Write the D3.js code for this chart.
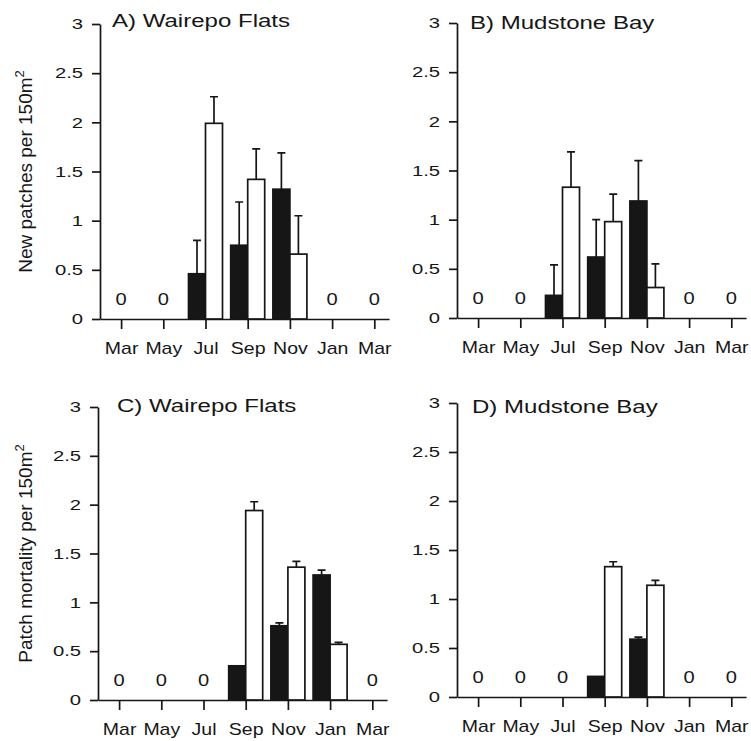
<!DOCTYPE html>
<html>
<head>
<meta charset="utf-8">
<script src="https://cdn.jsdelivr.net/npm/d3@7"></script>
<style>
  body { margin: 0; background: #fff; }
  svg { display: block; font-family: "Liberation Sans", Arial, Helvetica, sans-serif; }
</style>
</head>
<body>
<div id="chart"></div>
<script>
const months = ["Mar", "May", "Jul", "Sep", "Nov", "Jan", "Mar"];
const yTicks = [0, 0.5, 1, 1.5, 2, 2.5, 3];

// A) new patches, Wairepo Flats (black = filled bars, white = open bars)
const newWairepoFilled   = [0, 0, 0.46, 0.75, 1.32, 0, 0];
const newWairepoFilledUp = [null, null, 0.80, 1.19, 1.69, null, null];
const newWairepoOpen     = [0, 0, 1.99, 1.42, 0.66, 0, 0];
const newWairepoOpenUp   = [null, null, 2.26, 1.73, 1.05, null, null];

// B) new patches, Mudstone Bay
const newMudstoneFilled   = [0, 0, 0.23, 0.62, 1.19, 0, 0];
const newMudstoneFilledUp = [null, null, 0.54, 1.00, 1.60, null, null];
const newMudstoneOpen     = [0, 0, 1.33, 0.98, 0.31, 0, 0];
const newMudstoneOpenUp   = [null, null, 1.69, 1.26, 0.55, null, null];

// C) patch mortality, Wairepo Flats
const mortWairepoFilled   = [0, 0, 0, 0.35, 0.76, 1.28, 0];
const mortWairepoFilledUp = [null, null, null, null, 0.79, 1.33, null];
const mortWairepoOpen     = [0, 0, 0, 1.94, 1.36, 0.57, 0];
const mortWairepoOpenUp   = [null, null, null, 2.03, 1.42, 0.59, null];

// D) patch mortality, Mudstone Bay
const mortMudstoneFilled   = [0, 0, 0, 0.21, 0.59, 0, 0];
const mortMudstoneFilledUp = [null, null, null, null, 0.61, null, null];
const mortMudstoneOpen     = [0, 0, 0, 1.33, 1.14, 0, 0];
const mortMudstoneOpenUp   = [null, null, null, 1.38, 1.19, null, null];

const panels = [
  {title: "A) Wairepo Flats", ylabel: "New patches per 150m",
   filled: newWairepoFilled, filledUp: newWairepoFilledUp, open: newWairepoOpen, openUp: newWairepoOpenUp,
   left: 100, top: 24, bottom: 319, tx: 112, ty: 27},
  {title: "B) Mudstone Bay", ylabel: null,
   filled: newMudstoneFilled, filledUp: newMudstoneFilledUp, open: newMudstoneOpen, openUp: newMudstoneOpenUp,
   left: 457, top: 23, bottom: 318, tx: 470, ty: 29},
  {title: "C) Wairepo Flats", ylabel: "Patch mortality per 150m",
   filled: mortWairepoFilled, filledUp: mortWairepoFilledUp, open: mortWairepoOpen, openUp: mortWairepoOpenUp,
   left: 98, top: 407, bottom: 700, tx: 117, ty: 412},
  {title: "D) Mudstone Bay", ylabel: null,
   filled: mortMudstoneFilled, filledUp: mortMudstoneFilledUp, open: mortMudstoneOpen, openUp: mortMudstoneOpenUp,
   left: 457, top: 403, bottom: 697, tx: 472, ty: 413}
];

const width = 751, height = 741;
const step = 42.2, barW = 17, stretch = 1.22;
const ink = "#161616";

const svg = d3.select("#chart").append("svg")
    .attr("width", width)
    .attr("height", height);

panels.forEach(p => {
    const x = d3.scaleLinear().domain([-0.5, 6.35]).range([p.left, p.left + 6.85 * step]);
    const y = d3.scaleLinear().domain([0, 3]).range([p.bottom, p.top]);
    const g = svg.append("g");

    // axe des x
    const xAxis = g.append("g")
        .attr("transform", `translate(0,${p.bottom})`)
        .call(d3.axisBottom(x)
            .tickValues(d3.range(months.length))
            .tickSize(10)
            .tickSizeOuter(0)
            .tickPadding(14)
            .tickFormat(i => months[i]))
        .attr("font-family", null)
        .attr("font-size", 16);
    xAxis.selectAll("text").attr("fill", ink).attr("transform", `scale(${stretch},1)`);

    // axe des y
    const yAxis = g.append("g")
        .attr("transform", `translate(${p.left},0)`)
        .call(d3.axisLeft(y)
            .tickValues(yTicks)
            .tickSize(8)
            .tickSizeOuter(0)
            .tickPadding(4.6)
            .tickFormat(d3.format("")))
        .attr("font-family", null)
        .attr("font-size", 15);
    yAxis.selectAll("text").attr("fill", ink).attr("transform", "scale(1.35,1)");

    g.selectAll(".domain, .tick line").attr("stroke", ink).attr("stroke-width", 1.7);

    // barres
    const rows = months.map((m, i) => ({i, f: p.filled[i], fu: p.filledUp[i], o: p.open[i], ou: p.openUp[i]}));

    const bars = [];
    rows.forEach(d => {
        if (d.f > 0) bars.push({x0: x(d.i) - barW, v: d.f, up: d.fu, fill: ink});
        if (d.o > 0) bars.push({x0: x(d.i), v: d.o, up: d.ou, fill: "#fff"});
    });

    // barres d'erreur
    g.selectAll(".err").data(bars.filter(b => b.up != null))
        .enter().append("path")
        .attr("class", "err")
        .attr("d", b => {
            const cx = b.x0 + barW / 2;
            return `M${cx},${y(b.v)}V${y(b.up)}M${cx - 4},${y(b.up)}H${cx + 4}`;
        })
        .attr("fill", "none")
        .attr("stroke", ink)
        .attr("stroke-width", 1.7);

    g.selectAll(".bar").data(bars)
        .enter().append("rect")
        .attr("class", "bar")
        .attr("x", b => b.x0)
        .attr("y", b => y(b.v))
        .attr("width", barW)
        .attr("height", b => y(0) - y(b.v))
        .attr("fill", b => b.fill)
        .attr("stroke", ink)
        .attr("stroke-width", 1.7);

    // zéros
    g.selectAll(".zero").data(rows.filter(d => d.f === 0 && d.o === 0))
        .enter().append("text")
        .attr("class", "zero")
        .attr("transform", d => `translate(${x(d.i)},${y(0) - 14}) scale(${stretch},1)`)
        .attr("text-anchor", "middle")
        .attr("font-size", 16.5)
        .attr("fill", ink)
        .text("0");

    // titre
    g.append("text")
        .attr("transform", `translate(${p.tx},${p.ty}) scale(1.3,1)`)
        .attr("font-size", 18.5)
        .attr("fill", ink)
        .text(p.title);

    if (p.ylabel) {
        const lab = g.append("text")
            .attr("transform", `translate(32,${(p.top + p.bottom) / 2}) rotate(-90)`)
            .attr("text-anchor", "middle")
            .attr("font-size", 19)
            .attr("fill", ink);
        lab.append("tspan").text(p.ylabel);
        lab.append("tspan").attr("font-size", 13).attr("dy", -8).text("2");
    }
});
</script>
</body>
</html>
